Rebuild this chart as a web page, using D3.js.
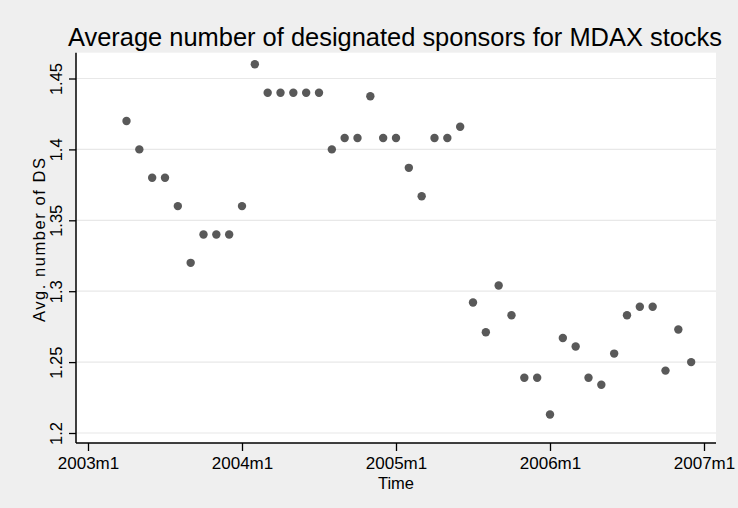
<!DOCTYPE html>
<html>
<head>
<meta charset="utf-8">
<script src="https://cdn.jsdelivr.net/npm/d3@7"></script>
<style>
  body { margin: 0; background: #efefef; }
  svg { display: block; }
  text { font-family: "Liberation Sans", Arial, sans-serif; fill: #000; }
</style>
</head>
<body>
<svg id="chart" width="738" height="508"></svg>
<script>
// Data
var months = [
    "2003m4", "2003m5", "2003m6", "2003m7", "2003m8", "2003m9", "2003m10", "2003m11", "2003m12",
    "2004m1", "2004m2", "2004m3", "2004m4", "2004m5", "2004m6", "2004m7", "2004m8", "2004m9", "2004m10", "2004m11", "2004m12",
    "2005m1", "2005m2", "2005m3", "2005m4", "2005m5", "2005m6", "2005m7", "2005m8", "2005m9", "2005m10", "2005m11", "2005m12",
    "2006m1", "2006m2", "2006m3", "2006m4", "2006m5", "2006m6", "2006m7", "2006m8", "2006m9", "2006m10", "2006m11", "2006m12"
];
var avgDS = [
    1.42, 1.40, 1.38, 1.38, 1.36, 1.32, 1.34, 1.34, 1.34,
    1.36, 1.46, 1.44, 1.44, 1.44, 1.44, 1.44, 1.40, 1.408, 1.408, 1.4375, 1.408,
    1.408, 1.387, 1.367, 1.408, 1.408, 1.416, 1.292, 1.271, 1.304, 1.283, 1.239, 1.239,
    1.213, 1.267, 1.261, 1.239, 1.234, 1.256, 1.283, 1.289, 1.289, 1.244, 1.273, 1.25
];
var xTickLabels = ["2003m1", "2004m1", "2005m1", "2006m1", "2007m1"];
var yTicks = [1.2, 1.25, 1.3, 1.35, 1.4, 1.45];

// "2003m4" -> maanedsindeks fra 2003m1
function monthIndex(s) {
    var p = s.split("m");
    return (+p[0] - 2003) * 12 + (+p[1] - 1);
}

var svg = d3.select("#chart");

// Plotomraade
var plotLeft = 76, plotRight = 716, plotTop = 52.7, plotBottom = 443;

var x = d3.scaleLinear().domain([0, 48]).range([88, 704]);
var y = d3.scaleLinear().domain([1.2, 1.45]).range([433, 78.5]);

// Hvid baggrund i plotomraadet
svg.append("rect")
    .attr("x", plotLeft)
    .attr("y", plotTop)
    .attr("width", plotRight - plotLeft)
    .attr("height", plotBottom - plotTop)
    .attr("fill", "#ffffff");

// Gitterlinjer
svg.append("g")
    .selectAll("line")
    .data(yTicks)
    .enter().append("line")
        .attr("x1", plotLeft)
        .attr("x2", plotRight)
        .attr("y1", function(d) { return y(d); })
        .attr("y2", function(d) { return y(d); })
        .attr("stroke", "#e8e8e8")
        .attr("stroke-width", 1.2);

// Punkter
svg.append("g")
    .selectAll("circle")
    .data(months)
    .enter().append("circle")
        .attr("cx", function(d) { return x(monthIndex(d)); })
        .attr("cy", function(d, i) { return y(avgDS[i]); })
        .attr("r", 4.2)
        .attr("fill", "#595959");

// x-akse
var xAxis = svg.append("g")
    .attr("transform", "translate(0," + plotBottom + ")")
    .call(d3.axisBottom(x)
        .tickValues(xTickLabels.map(monthIndex))
        .tickFormat(function(d, i) { return xTickLabels[i]; })
        .tickSize(8)
        .tickPadding(5));
xAxis.select(".domain").remove();
xAxis.selectAll("line").attr("stroke", "#000").attr("stroke-width", 1.3);
xAxis.selectAll("text").style("font-size", "17px").attr("dy", "0.75em");

// y-akse
var yAxis = svg.append("g")
    .attr("transform", "translate(" + plotLeft + ",0)")
    .call(d3.axisLeft(y)
        .tickValues(yTicks)
        .tickFormat(d3.format(""))
        .tickSize(7));
yAxis.select(".domain").remove();
yAxis.selectAll("line").attr("stroke", "#000").attr("stroke-width", 1.3);
yAxis.selectAll("text")
    .attr("transform", "rotate(-90)")
    .attr("x", 0)
    .attr("y", -14)
    .attr("dy", 0)
    .style("text-anchor", "middle")
    .style("font-size", "16.5px");

// Akselinjer
svg.append("line")
    .attr("x1", plotLeft).attr("x2", plotLeft)
    .attr("y1", plotTop).attr("y2", plotBottom)
    .attr("stroke", "#000").attr("stroke-width", 1.5);
svg.append("line")
    .attr("x1", plotLeft).attr("x2", plotRight)
    .attr("y1", plotBottom).attr("y2", plotBottom)
    .attr("stroke", "#000").attr("stroke-width", 1.5);

// Titler
svg.append("text")
    .attr("x", 395)
    .attr("y", 46)
    .attr("text-anchor", "middle")
    .attr("textLength", 654)
    .attr("lengthAdjust", "spacingAndGlyphs")
    .style("font-size", "26px")
    .text("Average number of designated sponsors for MDAX stocks");

svg.append("text")
    .attr("x", 396)
    .attr("y", 489)
    .attr("text-anchor", "middle")
    .style("font-size", "16.5px")
    .text("Time");

svg.append("text")
    .attr("transform", "translate(45,240) rotate(-90)")
    .attr("text-anchor", "middle")
    .attr("textLength", 164)
    .attr("lengthAdjust", "spacing")
    .style("font-size", "16.5px")
    .text("Avg. number of DS");
</script>
</body>
</html>
